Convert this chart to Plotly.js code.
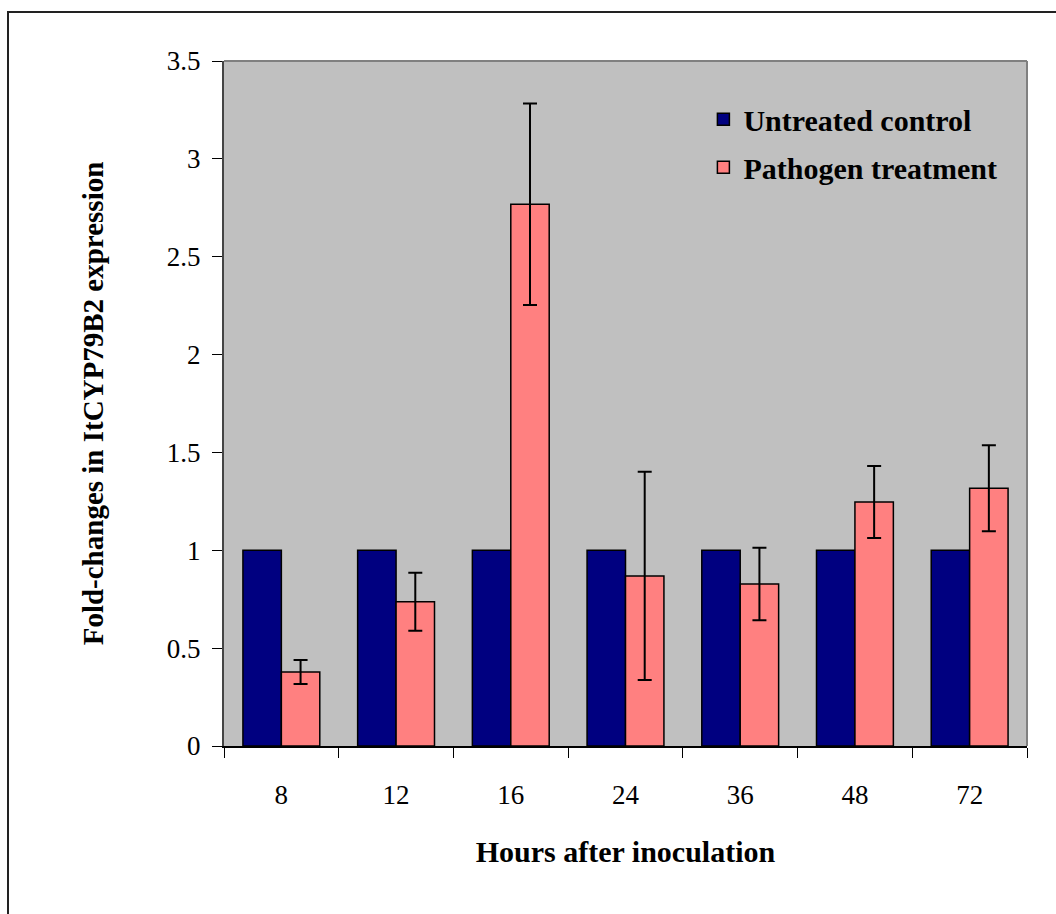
<!DOCTYPE html>
<html>
<head>
<meta charset="utf-8">
<script src="https://cdn.plot.ly/plotly-3.0.1.min.js"></script>
<style>
  html, body { margin: 0; padding: 0; background: #fff; }
  #wrap { position: relative; width: 1056px; height: 914px; overflow: hidden; }
  #chart { position: absolute; left: 0; top: 0; width: 1056px; height: 914px; }
  #frame { position: absolute; left: 7px; top: 11px; width: 1100px; height: 1000px;
           border-left: 2px solid #222; border-top: 2px solid #222; pointer-events: none; }
</style>
</head>
<body>
<div id="wrap">
  <div id="chart"></div>
  <div id="frame"></div>
</div>
<script>
const categories = ["8", "12", "16", "24", "36", "48", "72"];
const controlValues = [1, 1, 1, 1, 1, 1, 1];
const pathogenValues = [0.378, 0.737, 2.768, 0.869, 0.828, 1.247, 1.317];
const pathogenErrors = [0.061, 0.148, 0.515, 0.532, 0.185, 0.184, 0.22];
const yTickVals = [0, 0.5, 1, 1.5, 2, 2.5, 3, 3.5];
const yTickText = ["0", "0.5", "1", "1.5", "2", "2.5", "3", "3.5"];

const serif = "'Liberation Serif', 'Times New Roman', serif";

const traces = [
  {
    type: "bar",
    name: "Untreated control",
    legendgroup: "a",
    x: categories,
    y: controlValues,
    marker: { color: "#000080", line: { color: "#000000", width: 1.5 } }
  },
  {
    type: "bar",
    name: "Pathogen treatment",
    legendgroup: "b",
    x: categories,
    y: pathogenValues,
    marker: { color: "#FF8080", line: { color: "#000000", width: 1.5 } },
    error_y: { type: "data", array: pathogenErrors, visible: true,
               color: "#000000", thickness: 2, width: 7 }
  }
];

const layout = {
  width: 1056,
  height: 914,
  margin: { l: 224, r: 29, t: 61, b: 168, pad: 0 },
  paper_bgcolor: "#ffffff",
  plot_bgcolor: "#C0C0C0",
  barmode: "group",
  bargap: 0.33,
  bargroupgap: 0,
  showlegend: true,
  legend: {
    x: 0.597, y: 0.953, xanchor: "left", yanchor: "top",
    bgcolor: "rgba(0,0,0,0)",
    font: { family: serif, size: 30, color: "#000", weight: "bold" },
    traceorder: "grouped",
    tracegroupgap: 6,
    itemwidth: 30
  },
  font: { family: serif, color: "#000" },
  xaxis: {
    type: "category",
    tickson: "boundaries",
    ticks: "outside",
    ticklen: 10,
    tickcolor: "#000",
    tickwidth: 1,
    ticklabelstandoff: 24,
    showline: true,
    linecolor: "#000",
    linewidth: 2,
    showgrid: false,
    tickfont: { family: serif, size: 27, color: "#000" },
    title: { text: "<b>Hours after inoculation</b>", font: { family: serif, size: 30, color: "#000" }, standoff: 32 },
    automargin: false
  },
  yaxis: {
    range: [0, 3.5],
    tickvals: yTickVals,
    ticktext: yTickText,
    ticks: "outside",
    ticklen: 10,
    tickcolor: "#000",
    tickwidth: 1,
    ticklabelstandoff: 6,
    showline: true,
    linecolor: "#444",
    linewidth: 2,
    showgrid: false,
    zeroline: false,
    tickfont: { family: serif, size: 27, color: "#000" },
    title: { text: "<b>Fold-changes in ItCYP79B2 expression</b>", font: { family: serif, size: 29, color: "#000" }, standoff: 55 },
    automargin: false
  },
  shapes: [
    { type: "line", xref: "paper", yref: "paper", x0: 0, x1: 1, y0: 1, y1: 1,
      line: { color: "#808080", width: 2 } },
    { type: "line", xref: "paper", yref: "paper", x0: 1, x1: 1, y0: 0, y1: 1,
      line: { color: "#808080", width: 2 } }
  ]
};

Plotly.newPlot("chart", traces, layout, { displayModeBar: false, staticPlot: true });
</script>
</body>
</html>
